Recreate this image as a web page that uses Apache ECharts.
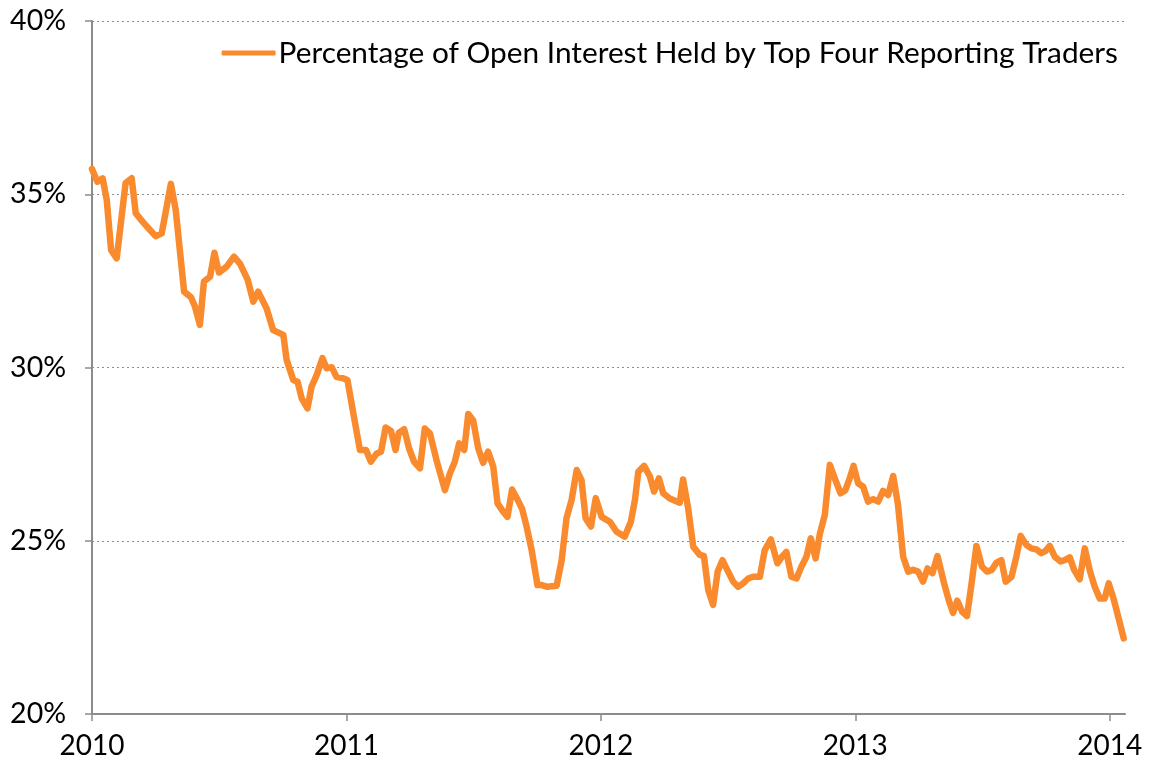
<!DOCTYPE html>
<html>
<head>
<meta charset="utf-8">
<script src="https://cdn.jsdelivr.net/npm/echarts@6/dist/echarts.min.js"></script>
<style>
html,body{margin:0;padding:0;background:#fff;}
#chart{width:1149px;height:771px;}
</style>
</head>
<body>
<div id="chart"></div>
<script>
// Time in decimal years
const years = [
2010.000,2010.021,2010.042,2010.058,2010.075,2010.097,2010.132,2010.156,2010.172,2010.202,
2010.228,2010.250,2010.274,2010.310,2010.329,2010.362,2010.389,2010.405,2010.424,2010.440,
2010.464,2010.481,2010.499,2010.529,2010.558,2010.582,2010.612,2010.634,2010.653,2010.686,
2010.712,2010.752,2010.765,2010.791,2010.808,2010.824,2010.847,2010.863,2010.883,2010.906,
2010.922,2010.942,2010.961,2010.987,2011.004,2011.027,2011.053,2011.077,2011.096,2011.119,
2011.136,2011.154,2011.175,2011.193,2011.206,2011.227,2011.246,2011.266,2011.289,2011.308,
2011.328,2011.354,2011.387,2011.407,2011.426,2011.443,2011.463,2011.479,2011.498,2011.518,
2011.537,2011.557,2011.577,2011.594,2011.616,2011.633,2011.651,2011.673,2011.691,2011.708,
2011.728,2011.751,2011.767,2011.791,2011.809,2011.826,2011.846,2011.865,2011.885,2011.905,
2011.924,2011.940,2011.961,2011.980,2012.003,2012.035,2012.062,2012.094,2012.118,2012.134,
2012.147,2012.170,2012.193,2012.209,2012.228,2012.245,2012.271,2012.310,2012.323,2012.343,
2012.363,2012.389,2012.405,2012.422,2012.441,2012.459,2012.478,2012.500,2012.520,2012.539,
2012.559,2012.579,2012.598,2012.625,2012.644,2012.668,2012.694,2012.712,2012.729,2012.749,
2012.769,2012.788,2012.808,2012.825,2012.844,2012.861,2012.880,2012.900,2012.922,2012.942,
2012.961,2012.978,2012.993,2013.011,2013.031,2013.050,2013.070,2013.090,2013.109,2013.129,
2013.149,2013.168,2013.188,2013.208,2013.227,2013.247,2013.266,2013.284,2013.303,2013.323,
2013.349,2013.367,2013.384,2013.401,2013.420,2013.439,2013.457,2013.476,2013.498,2013.518,
2013.537,2013.555,2013.574,2013.591,2013.614,2013.633,2013.650,2013.672,2013.692,2013.712,
2013.731,2013.748,2013.764,2013.784,2013.807,2013.823,2013.843,2013.860,2013.882,2013.902,
2013.921,2013.941,2013.961,2013.980,2013.996,2014.015,2014.035,2014.055
];
// Percentage of open interest held by top four reporting traders
const share = [
35.73,35.36,35.46,34.83,33.39,33.15,35.32,35.46,34.45,34.18,
33.97,33.79,33.87,35.30,34.55,32.19,32.03,31.75,31.23,32.48,
32.62,33.31,32.74,32.91,33.20,32.99,32.53,31.90,32.19,31.71,
31.08,30.94,30.22,29.64,29.59,29.11,28.82,29.45,29.78,30.27,
29.98,30.01,29.73,29.69,29.64,28.68,27.62,27.62,27.28,27.52,
27.57,28.27,28.17,27.62,28.12,28.22,27.67,27.28,27.09,28.24,
28.10,27.33,26.46,26.95,27.28,27.81,27.62,28.66,28.48,27.67,
27.25,27.57,27.14,26.08,25.84,25.69,26.48,26.18,25.91,25.41,
24.73,23.72,23.72,23.67,23.69,23.70,24.44,25.65,26.18,27.04,
26.75,25.65,25.41,26.23,25.69,25.55,25.26,25.12,25.55,26.18,
26.99,27.16,26.85,26.42,26.80,26.37,26.22,26.10,26.77,25.94,
24.83,24.59,24.56,23.58,23.15,24.11,24.44,24.11,23.82,23.67,
23.77,23.91,23.96,23.96,24.73,25.04,24.35,24.54,24.68,23.96,
23.91,24.25,24.54,25.07,24.49,25.21,25.74,27.19,26.75,26.37,
26.46,26.80,27.16,26.66,26.56,26.13,26.20,26.13,26.44,26.32,
26.87,26.03,24.54,24.11,24.16,24.11,23.82,24.20,24.06,24.56,
23.77,23.29,22.92,23.27,22.95,22.83,23.77,24.85,24.25,24.11,
24.16,24.37,24.44,23.82,23.96,24.54,25.14,24.88,24.78,24.75,
24.64,24.71,24.85,24.54,24.40,24.44,24.52,24.16,23.89,24.78,
24.16,23.67,23.33,23.33,23.77,23.33,22.76,22.18
];
const yearTicks = [2010, 2011, 2012, 2013, 2014];
const seriesName = 'Percentage of Open Interest Held by Top Four Reporting Traders';

const points = years.map((t, i) => [t, share[i]]);
const FONT = 'Lato';
const ORANGE = '#F98A2D';
const chart = echarts.init(document.getElementById('chart'), null, {renderer: 'canvas'});
chart.setOption({
  animation: false,
  backgroundColor: '#ffffff',
  grid: {left: 92, right: 24, top: 21, bottom: 57, containLabel: false},
  legend: {
    right: 26, top: 33,
    icon: 'roundRect',
    itemWidth: 54, itemHeight: 5, itemGap: 10,
    textStyle: {fontFamily: FONT, fontSize: 29.8, color: '#000', padding: [0,0,0,-2]},
    data: [seriesName]
  },
  xAxis: {
    type: 'value', min: 2010, max: 2014.06,
    axisLine: {lineStyle: {color: '#8c8c8c', width: 2}},
    axisTick: {show: true, length: 7, lineStyle: {color: '#8c8c8c', width: 1.5}, customValues: yearTicks},
    axisLabel: {customValues: yearTicks, fontFamily: FONT, fontSize: 28, color: '#000', margin: 18,
      formatter: v => String(Math.round(v))},
    splitLine: {show: false}
  },
  yAxis: {
    type: 'value', min: 20, max: 40, interval: 5,
    axisLine: {show: true, lineStyle: {color: '#8c8c8c', width: 2}},
    axisTick: {show: true, length: 7, lineStyle: {color: '#8c8c8c', width: 1.5}},
    axisLabel: {fontFamily: FONT, fontSize: 28.5, color: '#000', margin: 26, formatter: v => v + '%'},
    splitLine: {show: true, lineStyle: {color: '#8c8c8c', type: [2, 3], width: 1.2}}
  },
  series: [{
    name: seriesName,
    type: 'line',
    data: points,
    showSymbol: false,
    symbol: 'none',
    clip: false,
    lineStyle: {color: ORANGE, width: 6.5, join: 'round', cap: 'round'},
    itemStyle: {color: ORANGE}
  }]
});
</script>
</body>
</html>
